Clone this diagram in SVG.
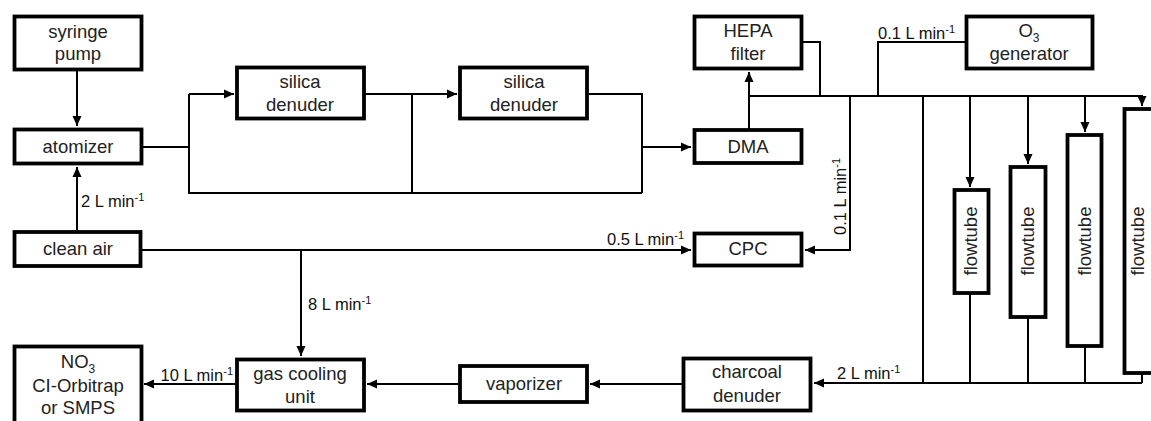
<svg xmlns="http://www.w3.org/2000/svg" width="1151" height="421" viewBox="0 0 1151 421">
<style>
.box{fill:#fff;stroke:#000;stroke-width:3.8}
.t{font-family:"Liberation Sans",Arial,sans-serif;font-size:18.5px;fill:#222;text-anchor:middle}
.l{font-family:"Liberation Sans",Arial,sans-serif;font-size:16.5px;fill:#111}
.e{text-anchor:end}
.c{fill:none;stroke:#000;stroke-width:2}
.a{marker-end:url(#ah)}
</style>
<defs>
<marker id="ah" markerUnits="userSpaceOnUse" markerWidth="11" markerHeight="10" refX="10" refY="5" orient="auto">
<path d="M0,0.5 L10,5 L0,9.5 z" fill="#000"/>
</marker>
</defs>
<rect width="1151" height="421" fill="#fff"/>
<g id="connectors">
<path class="c a" d="M77,71 V126"/>
<path class="c a" d="M77,230 V167"/>
<path class="c" d="M143,147 H189 M189,94 V193 H642"/>
<path class="c a" d="M189,94 H234"/>
<path class="c a" d="M365,94 H457"/>
<path class="c" d="M412,94 V193"/>
<path class="c" d="M589,94 H642 V193"/>
<path class="c a" d="M642,147 H691"/>
<path class="c a" d="M749,130 V72"/>
<path class="c a" d="M749,96 H1142 V106"/>
<path class="c" d="M803,42 H820 V96"/>
<path class="c" d="M965,42 H878 V96"/>
<path class="c a" d="M850,96 V250 H805"/>
<path class="c" d="M923,96 V383"/>
<path class="c a" d="M970,96 V187"/>
<path class="c a" d="M1028,96 V164"/>
<path class="c a" d="M1085,96 V132"/>
<path class="c" d="M970,294 V383 M1028,318 V383 M1085,347 V383 M1142,374 V383"/>
<path class="c a" d="M1142,383 H814"/>
<path class="c a" d="M682,384 H590"/>
<path class="c a" d="M459,384 H367"/>
<path class="c a" d="M236,384 H144"/>
<path class="c a" d="M142,250 H691"/>
<path class="c a" d="M301,250 V356"/>
<text class="l" x="81" y="207">2 L min<tspan dy="-6" font-size="11">-1</tspan></text>
<text class="l e" x="684" y="245">0.5 L min<tspan dy="-6" font-size="11">-1</tspan></text>
<text class="l" x="308" y="310">8 L min<tspan dy="-6" font-size="11">-1</tspan></text>
<text class="l e" x="233" y="381">10 L min<tspan dy="-6" font-size="11">-1</tspan></text>
<text class="l" x="837" y="379">2 L min<tspan dy="-6" font-size="11">-1</tspan></text>
<text class="l" x="878" y="39">0.1 L min<tspan dy="-6" font-size="11">-1</tspan></text>
<text class="l" x="846" y="235" transform="rotate(-90 846 235)">0.1 L min<tspan dy="-6" font-size="11">-1</tspan></text>
</g>
<g id="syringe-pump"><rect class="box" x="14.5" y="16.5" width="127" height="53"/><text class="t" x="78" y="38">syringe</text><text class="t" x="78" y="60">pump</text></g>
<g id="atomizer"><rect class="box" x="14.5" y="129.5" width="127" height="34"/><text class="t" x="78" y="153">atomizer</text></g>
<g id="clean-air"><rect class="box" x="14.5" y="232" width="126" height="34"/><text class="t" x="78" y="255">clean air</text></g>
<g id="silica-denuder-1"><rect class="box" x="237" y="67.5" width="127" height="51"/><text class="t" x="300" y="88">silica</text><text class="t" x="300" y="111">denuder</text></g>
<g id="silica-denuder-2"><rect class="box" x="460" y="67.5" width="127" height="51"/><text class="t" x="524" y="88">silica</text><text class="t" x="524" y="111">denuder</text></g>
<g id="hepa-filter"><rect class="box" x="694.5" y="16.5" width="107" height="52"/><text class="t" x="748" y="37">HEPA</text><text class="t" x="748" y="60">filter</text></g>
<g id="dma"><rect class="box" x="694.5" y="130" width="107" height="33"/><text class="t" x="748" y="153">DMA</text></g>
<g id="cpc"><rect class="box" x="694.5" y="233.5" width="107" height="32"/><text class="t" x="748" y="255">CPC</text></g>
<g id="o3-generator"><rect class="box" x="966.5" y="16.5" width="126" height="52"/><text class="t" x="1029" y="37">O<tspan dy="5" font-size="12">3</tspan></text><text class="t" x="1029" y="60">generator</text></g>
<g id="flowtube-1"><rect class="box" x="954.5" y="190" width="34" height="103"/><text class="t" x="977" y="241" transform="rotate(-90 977 241)">flowtube</text></g>
<g id="flowtube-2"><rect class="box" x="1010.5" y="167" width="35" height="150"/><text class="t" x="1034" y="241" transform="rotate(-90 1034 241)">flowtube</text></g>
<g id="flowtube-3"><rect class="box" x="1067.5" y="135" width="34" height="211"/><text class="t" x="1091" y="241" transform="rotate(-90 1091 241)">flowtube</text></g>
<g id="flowtube-4"><rect class="box" x="1124.5" y="109" width="40" height="264"/><text class="t" x="1144" y="241" transform="rotate(-90 1144 241)">flowtube</text></g>
<g id="charcoal-denuder"><rect class="box" x="683.5" y="358.5" width="127" height="52"/><text class="t" x="747" y="378">charcoal</text><text class="t" x="747" y="402">denuder</text></g>
<g id="vaporizer"><rect class="box" x="460" y="366" width="127" height="36"/><text class="t" x="524" y="390">vaporizer</text></g>
<g id="gas-cooling-unit"><rect class="box" x="237" y="359.5" width="127" height="51"/><text class="t" x="300" y="380">gas cooling</text><text class="t" x="300" y="403">unit</text></g>
<g id="no3-ci-orbitrap"><rect class="box" x="14.5" y="346.5" width="127" height="80"/><text class="t" x="78" y="368">NO<tspan dy="5" font-size="12">3</tspan></text><text class="t" x="78" y="392">CI-Orbitrap</text><text class="t" x="78" y="414">or SMPS</text></g>
</svg>
